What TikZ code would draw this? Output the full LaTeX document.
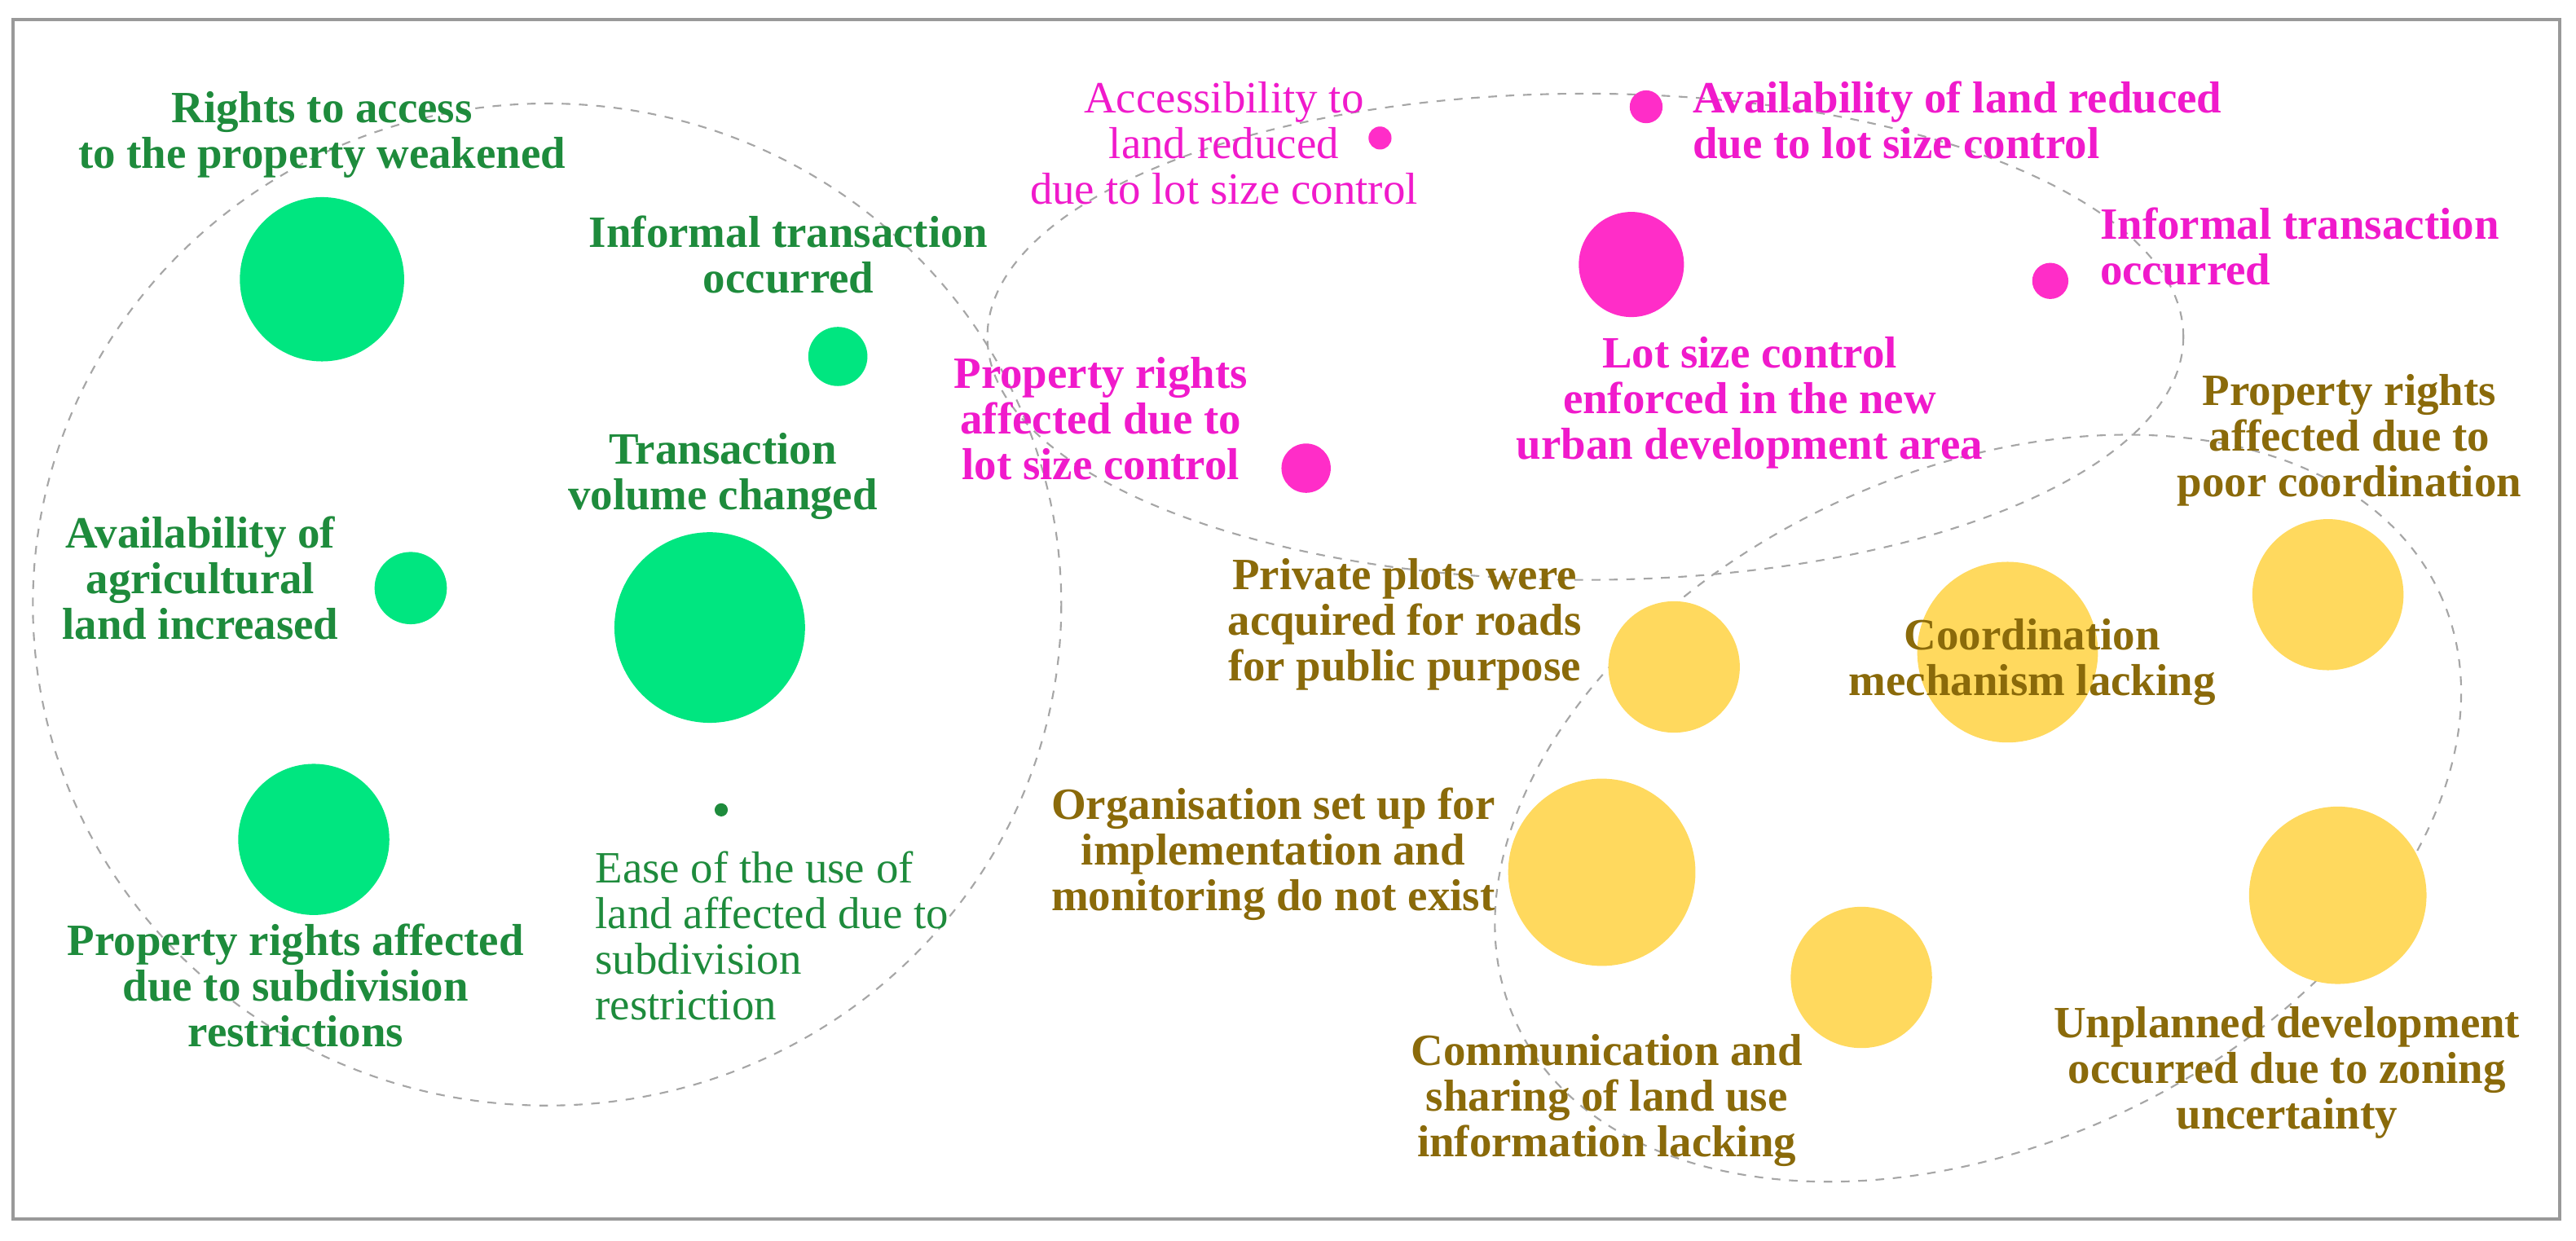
\documentclass[tikz,border=0pt]{standalone}
\usepackage{fontspec}
\setmainfont{Liberation Serif}
\begin{document}
\begin{tikzpicture}[x=0.02cm,y=-0.02cm,
  txt/.style={align=center,font=\fontsize{15.5}{15.8}\selectfont\bfseries,inner sep=0pt},
  ntxt/.style={align=center,font=\fontsize{15.5}{15.8}\selectfont,inner sep=0pt},
  gc/.style={fill=gfill,draw=none},
  mc/.style={fill=mfill,draw=none},
  yc/.style={fill=yfill,draw=none},
  ell/.style={draw=gray!70,dashed,line width=0.6pt}]
\definecolor{gfill}{HTML}{00E680}
\definecolor{gtext}{HTML}{1E8B3C}
\definecolor{mfill}{HTML}{FF2DC8}
\definecolor{mtext}{HTML}{F01ACB}
\definecolor{yfill}{HTML}{FFD95E}
\definecolor{ytext}{HTML}{8A6A0A}
\useasboundingbox (0,0) rectangle (1568,755);
\draw[gray!80,line width=1pt] (8,12) rectangle (1558,742);
\draw[ell] (333,368) ellipse [x radius=313,y radius=305];
\draw[ell] (965,205) ellipse [x radius=364,y radius=148];
\draw[ell] (1204,492) ellipse [x radius=310,y radius=205,rotate=25];
% green
\node[gc,circle,minimum size=100*0.02cm] (g1) at (196,170) {};
\node[gc,circle,minimum size=36*0.02cm] (g2) at (510,217) {};
\node[gc,circle,minimum size=44*0.02cm] (g3) at (250,358) {};
\node[gc,circle,minimum size=116*0.02cm] (g4) at (432,382) {};
\node[gc,circle,minimum size=92*0.02cm] (g5) at (191,511) {};
\node[circle,fill=gtext,minimum size=8*0.02cm,inner sep=0pt] (g6) at (439,493) {};
\node[txt,text=gtext] (t1) at (196,82) {Rights to access\\to the property weakened};
\node[txt,text=gtext] (t2) at (480,155) {Informal transaction\\occurred};
\node[txt,text=gtext] (t3) at (440,290) {Transaction\\volume changed};
\node[txt,text=gtext] (t4) at (122,352) {Availability of\\agricultural\\land increased};
\node[txt,text=gtext] (t5) at (180,600) {Property rights affected\\due to subdivision\\restrictions};
\node[ntxt,text=gtext,align=left,anchor=north west] (t6) at (362,518) {Ease of the use of\\land affected due to\\subdivision\\restriction};
% magenta
\node[mc,circle,minimum size=14*0.02cm,inner sep=0pt] (m1) at (840,84) {};
\node[mc,circle,minimum size=20*0.02cm,inner sep=0pt] (m2) at (1002,65) {};
\node[mc,circle,minimum size=64*0.02cm] (m3) at (993,161) {};
\node[mc,circle,minimum size=22*0.02cm,inner sep=0pt] (m4) at (1248,171) {};
\node[mc,circle,minimum size=30*0.02cm,inner sep=0pt] (m5) at (795,285) {};
\node[ntxt,text=mtext] (u1) at (745,87) {Accessibility to\\land reduced\\due to lot size control};
\node[txt,text=mtext,align=left,anchor=west] (u2) at (1030,73) {Availability of land reduced\\due to lot size control};
\node[txt,text=mtext,align=left,anchor=west] (u3) at (1278,150) {Informal transaction\\occurred};
\node[txt,text=mtext] (u4) at (1065,245) {Lot size control\\enforced in the new\\urban development area};
\node[txt,text=mtext] (u5) at (670,255) {Property rights\\affected due to\\lot size control};
% yellow
\node[yc,circle,minimum size=80*0.02cm] (y1) at (1019,406) {};
\node[yc,circle,minimum size=110*0.02cm] (y2) at (1222,397) {};
\node[yc,circle,minimum size=92*0.02cm] (y3) at (1417,362) {};
\node[yc,circle,minimum size=114*0.02cm] (y4) at (975,531) {};
\node[yc,circle,minimum size=86*0.02cm] (y5) at (1133,595) {};
\node[yc,circle,minimum size=108*0.02cm] (y6) at (1423,545) {};
\node[txt,text=ytext] (v1) at (1430,268) {Property rights\\affected due to\\poor coordination};
\node[txt,text=ytext] (v2) at (855,380) {Private plots were\\acquired for roads\\for public purpose};
\node[txt,text=ytext] (v3) at (1237,403) {Coordination\\mechanism lacking};
\node[txt,text=ytext] (v4) at (775,520) {Organisation set up for\\implementation and\\monitoring do not exist};
\node[txt,text=ytext] (v5) at (978,670) {Communication and\\sharing of land use\\information lacking};
\node[txt,text=ytext] (v6) at (1392,653) {Unplanned development\\occurred due to zoning\\uncertainty};
\end{tikzpicture}
\end{document}
